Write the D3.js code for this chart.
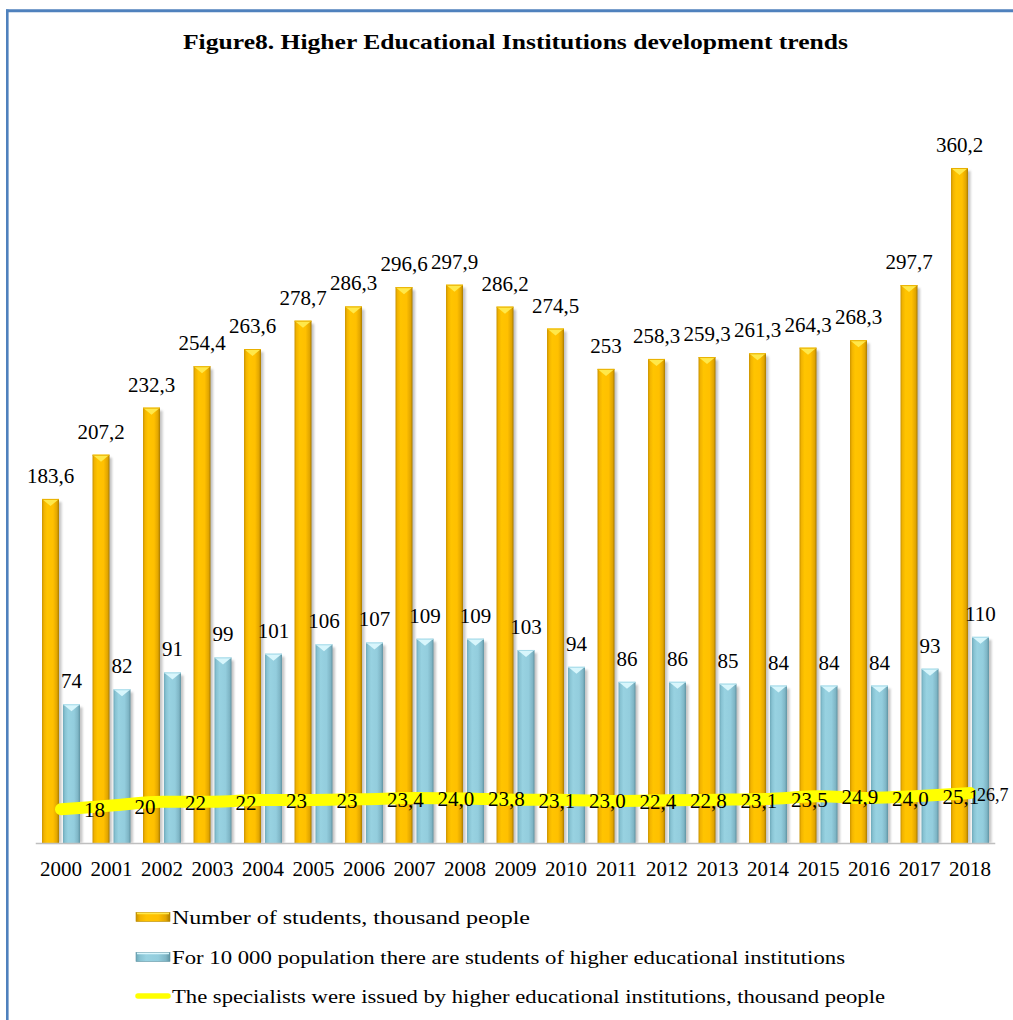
<!DOCTYPE html>
<html>
<head>
<meta charset="utf-8">
<script src="https://cdn.jsdelivr.net/npm/d3@7"></script>
<style>
  html, body { margin: 0; padding: 0; background: #ffffff; }
  svg { display: block; }
  text { font-family: "Liberation Serif", "Times New Roman", serif; fill: #000; }
</style>
</head>
<body>
<svg id="chart" width="1013" height="1020"></svg>
<script>
// Years on the category axis
const years = ["2000","2001","2002","2003","2004","2005","2006","2007","2008","2009",
               "2010","2011","2012","2013","2014","2015","2016","2017","2018"];

// Number of students, thousand people
const students = [183.6, 207.2, 232.3, 254.4, 263.6, 278.7, 286.3, 296.6, 297.9, 286.2,
                  274.5, 253, 258.3, 259.3, 261.3, 264.3, 268.3, 297.7, 360.2];

// Students of higher educational institutions per 10 000 population
const per10k = [74, 82, 91, 99, 101, 106, 107, 109, 109, 103,
                94, 86, 86, 85, 84, 84, 84, 93, 110];

// Specialists issued by higher educational institutions, thousand people
const specialists = [18, 20, 22, 22, 23, 23, 23.4, 24.0, 23.8, 23.1,
                     23.0, 22.4, 22.8, 23.1, 23.5, 24.9, 24.0, 25.1, 26.7];
// Decimal places shown in each specialists label
const specialistsDecimals = [0, 0, 0, 0, 0, 0, 1, 1, 1, 1, 1, 1, 1, 1, 1, 1, 1, 1, 1];

const titleText = "Figure8. Higher Educational Institutions development trends";
const legendLabels = [
  "Number of students, thousand people",
  "For 10 000 population there are students of higher educational institutions",
  "The specialists were issued by higher educational institutions, thousand people"
];

const W = 1013, H = 1020;
const svg = d3.select("#chart");
const defs = svg.append("defs");

// Comma decimal separator
const fmt = (v, d) => (d === undefined ? (Number.isInteger(v) ? String(v) : v.toFixed(1)) : v.toFixed(d)).replace(".", ",");

// Gradients giving the bars a rounded, lit look
function hGrad(id, stops) {
  const g = defs.append("linearGradient").attr("id", id)
    .attr("x1", "0").attr("x2", "1").attr("y1", "0").attr("y2", "0");
  stops.forEach(([o, c]) => g.append("stop").attr("offset", o).attr("stop-color", c));
}
hGrad("gOrange", [[0, "#c99200"], [0.12, "#f2b400"], [0.3, "#ffc400"], [0.65, "#ffc000"], [0.88, "#e2a600"], [1, "#a87a00"]]);
hGrad("gBlue", [[0, "#6ea9b9"], [0.12, "#88c3d3"], [0.3, "#98d2e1"], [0.65, "#93cddd"], [0.88, "#7fb6c6"], [1, "#5f93a2"]]);
defs.append("filter").attr("id", "soft").append("feGaussianBlur").attr("stdDeviation", 1.2);

// Frame
svg.append("line").attr("x1", 6).attr("x2", W).attr("y1", 10.8).attr("y2", 10.8)
  .attr("stroke", "#4f81bd").attr("stroke-width", 3);
svg.append("line").attr("x1", 7.3).attr("x2", 7.3).attr("y1", 9.5).attr("y2", H)
  .attr("stroke", "#4f81bd").attr("stroke-width", 2.6);

// Title
svg.append("text")
  .attr("x", 183).attr("y", 49)
  .attr("textLength", 665).attr("lengthAdjust", "spacingAndGlyphs")
  .style("font-size", "21px").style("font-weight", "bold")
  .text(titleText);

// Scales
const baseY = 843;
const x = d3.scaleBand().domain(years).range([35.75, 995.25]).paddingInner(0.248).paddingOuter(0.124);
const sub = d3.scaleBand().domain(["students", "per10k"]).range([0, x.bandwidth()]).paddingInner(0.19);
const y = d3.scaleLinear().domain([0, 400]).range([baseY, 93.4]);
const cx = d => x(d) + x.bandwidth() / 2;

const plot = svg.append("g");

function drawBars(values, key, fill, capColor, edgeColor) {
  const g = plot.append("g");
  const w = sub.bandwidth();
  const bx = i => x(years[i]) + sub(key);
  // soft shadow to the right of each bar
  g.selectAll("rect.shadow").data(values).join("rect")
    .attr("class", "shadow")
    .attr("x", (d, i) => bx(i) + 2.5)
    .attr("y", d => y(d) + 3)
    .attr("width", w)
    .attr("height", d => baseY - y(d) - 3)
    .attr("fill", "#7f7f7f").attr("opacity", 0.45)
    .attr("filter", "url(#soft)");
  g.selectAll("rect.bar").data(values).join("rect")
    .attr("class", "bar")
    .attr("x", (d, i) => bx(i))
    .attr("y", d => y(d))
    .attr("width", w)
    .attr("height", d => baseY - y(d))
    .attr("fill", fill);
  // bevelled top
  g.selectAll("path.cap").data(values).join("path")
    .attr("class", "cap")
    .attr("d", (d, i) => {
      const x0 = bx(i), t = y(d);
      return `M${x0},${t}L${x0 + w},${t}L${x0 + w / 2},${t + 7}Z`;
    })
    .attr("fill", capColor);
  g.selectAll("line.edge").data(values).join("line")
    .attr("class", "edge")
    .attr("x1", (d, i) => bx(i)).attr("x2", (d, i) => bx(i) + w)
    .attr("y1", d => y(d) + 0.5).attr("y2", d => y(d) + 0.5)
    .attr("stroke", edgeColor).attr("stroke-width", 1);
  // value labels
  g.selectAll("text").data(values).join("text")
    .attr("x", (d, i) => bx(i) + w / 2)
    .attr("y", d => y(d) - 16)
    .attr("text-anchor", "middle")
    .style("font-size", "21px")
    .text(d => fmt(d));
}

drawBars(students, "students", "url(#gOrange)", "#ffe84a", "#e9b000");
drawBars(per10k, "per10k", "url(#gBlue)", "#d8f6fc", "#a8dcea");

// Category axis line
svg.append("line").attr("x1", 35.75).attr("x2", 995.25).attr("y1", baseY + 0.5).attr("y2", baseY + 0.5)
  .attr("stroke", "#bfbfbf").attr("stroke-width", 1.5);

// Year labels
const axis = d3.axisBottom(x).tickSize(0).tickPadding(0);
const ax = svg.append("g").attr("transform", `translate(0,${baseY})`).call(axis);
ax.select(".domain").remove();
ax.selectAll("text")
  .attr("y", 33).attr("dy", 0)
  .style("font-family", "'Liberation Serif', 'Times New Roman', serif")
  .style("font-size", "21px").attr("fill", "#000");

// Specialists line
const line = d3.line().x((d, i) => cx(years[i])).y(d => y(d)).curve(d3.curveMonotoneX);
svg.append("path").datum(specialists)
  .attr("d", line)
  .attr("fill", "none").attr("stroke", "#ffff00")
  .attr("stroke-width", 12).attr("stroke-linecap", "round").attr("stroke-linejoin", "round");
const specLabels = svg.append("g").selectAll("text").data(specialists).join("text")
  .attr("x", (d, i) => cx(years[i]) + 23)
  .attr("y", d => y(d) + 8)
  .style("font-size", "21px")
  .text((d, i) => fmt(d, specialistsDecimals[i]));
// the last label sits against the right edge: pull it in and shrink it to stay inside
specLabels.each(function () {
  const sx = +this.getAttribute("x");
  const len = this.getComputedTextLength();
  if (sx + len > W - 4) {
    const nx = Math.min(sx, 977);
    const size = Math.min(21, Math.floor(21 * (W - 4 - nx) / len));
    d3.select(this).attr("x", nx).style("font-size", size + "px");
  }
});

// Legend
const legendY = [917, 957, 996];
const lg = svg.append("g");
lg.append("rect").attr("x", 136).attr("y", legendY[0] - 4.5).attr("width", 34).attr("height", 9)
  .attr("fill", "url(#gOrange)").attr("stroke", "#b88a00").attr("stroke-width", 0.6);
lg.append("line").attr("x1", 137).attr("x2", 169).attr("y1", legendY[0] - 3.5).attr("y2", legendY[0] - 3.5)
  .attr("stroke", "#ffe84a").attr("stroke-width", 1.5);
lg.append("rect").attr("x", 136).attr("y", legendY[1] - 4.5).attr("width", 34).attr("height", 9)
  .attr("fill", "url(#gBlue)").attr("stroke", "#5f93a2").attr("stroke-width", 0.6);
lg.append("line").attr("x1", 137).attr("x2", 169).attr("y1", legendY[1] - 3.5).attr("y2", legendY[1] - 3.5)
  .attr("stroke", "#d8f6fc").attr("stroke-width", 1.5);
lg.append("line").attr("x1", 138).attr("x2", 168).attr("y1", legendY[2]).attr("y2", legendY[2])
  .attr("stroke", "#ffff00").attr("stroke-width", 5.5).attr("stroke-linecap", "round");
const legendWidths = [358, 673, 713];
lg.selectAll("text.leg").data(legendLabels).join("text")
  .attr("class", "leg")
  .attr("x", 172).attr("y", (d, i) => legendY[i] + 7)
  .attr("textLength", (d, i) => legendWidths[i]).attr("lengthAdjust", "spacingAndGlyphs")
  .style("font-size", "19px")
  .text(d => d);
</script>
</body>
</html>
